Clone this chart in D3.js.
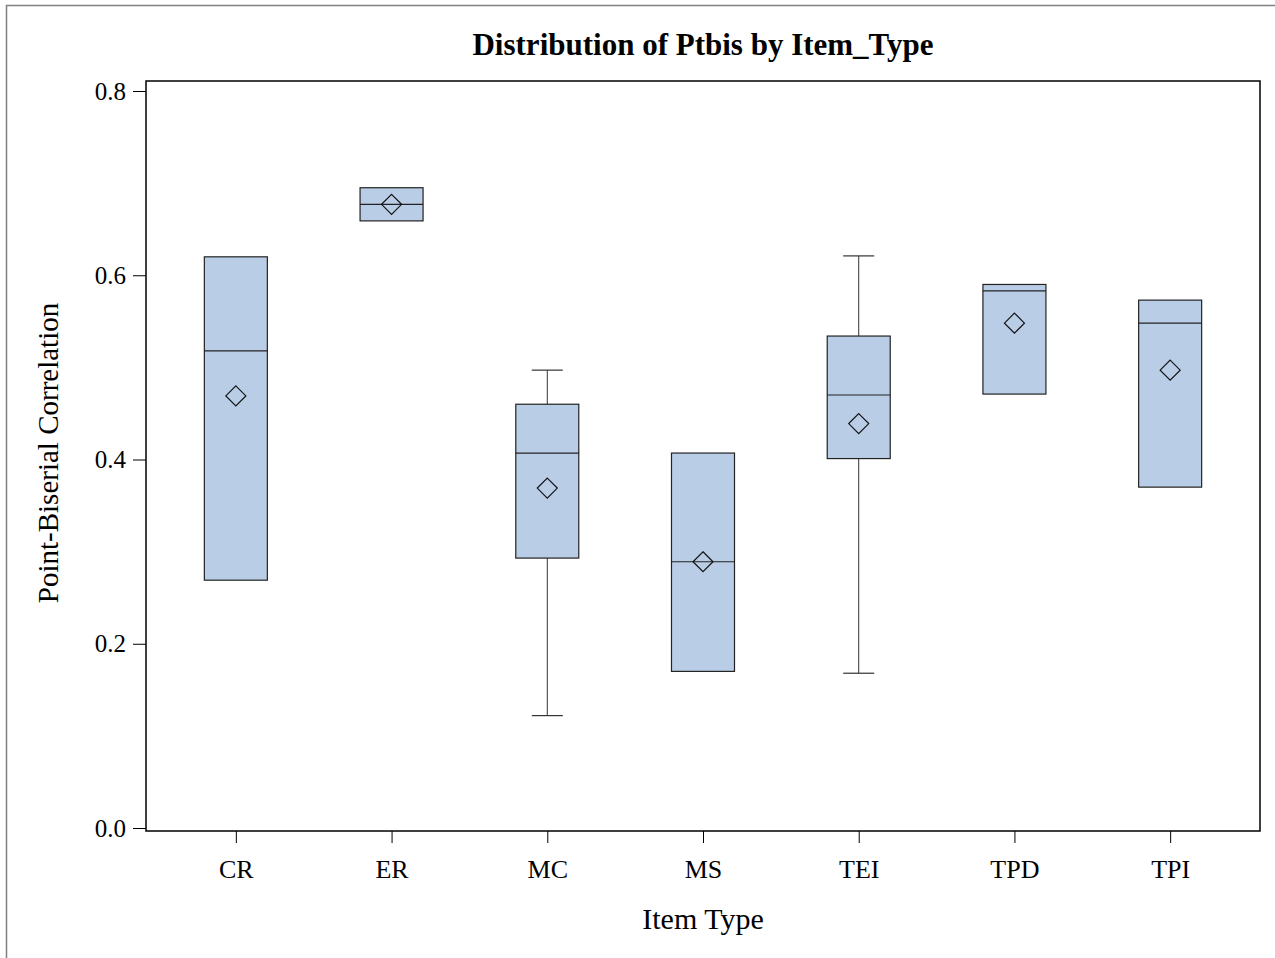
<!DOCTYPE html>
<html>
<head>
<meta charset="utf-8">
<script src="https://cdn.jsdelivr.net/npm/d3@7"></script>
<style>
html,body{margin:0;padding:0;background:#fff;}
svg{display:block;}
text{font-family:"Liberation Serif","Times New Roman",serif;fill:#000;}
</style>
</head>
<body>
<svg id="chart" width="1275" height="958"></svg>
<script>
const categories = ["CR","ER","MC","MS","TEI","TPD","TPI"];
const minVals    = [0.269,0.659,0.122,0.170,0.168,0.471,0.370];
const q1Vals     = [0.269,0.659,0.293,0.170,0.401,0.471,0.370];
const medianVals = [0.518,0.677,0.407,0.289,0.470,0.583,0.548];
const q3Vals     = [0.620,0.695,0.460,0.407,0.534,0.590,0.573];
const maxVals    = [0.620,0.695,0.497,0.407,0.621,0.590,0.573];
const meanVals   = [0.469,0.677,0.369,0.289,0.439,0.548,0.497];
const yTicks     = [0.0,0.2,0.4,0.6,0.8];

const svg = d3.select("#chart");
const L = 146, R = 1260, T = 81, B = 831;

// outer frame lines
svg.append("line").attr("x1",6).attr("y1",5.5).attr("x2",1275).attr("y2",5.5).attr("stroke","#808080").attr("stroke-width",1.5);
svg.append("line").attr("x1",6.5).attr("y1",5).attr("x2",6.5).attr("y2",958).attr("stroke","#808080").attr("stroke-width",1.5);

const y = d3.scaleLinear().domain([0,0.8]).range([828,91]);
const x = d3.scalePoint().domain(categories).range([L,R]).padding(0.577);

const boxW = 63, capW = 31;

const data = categories.map((c,i)=>({c,min:minVals[i],q1:q1Vals[i],med:medianVals[i],q3:q3Vals[i],max:maxVals[i],mean:meanVals[i]}));

const g = svg.append("g");
data.forEach(d=>{
  const cx = x(d.c);
  if (d.max > d.q3) {
    g.append("line").attr("x1",cx).attr("x2",cx).attr("y1",y(d.max)).attr("y2",y(d.q3)).attr("stroke","#333").attr("stroke-width",1);
    g.append("line").attr("x1",cx-capW/2).attr("x2",cx+capW/2).attr("y1",y(d.max)).attr("y2",y(d.max)).attr("stroke","#333").attr("stroke-width",1.2);
  }
  if (d.min < d.q1) {
    g.append("line").attr("x1",cx).attr("x2",cx).attr("y1",y(d.q1)).attr("y2",y(d.min)).attr("stroke","#333").attr("stroke-width",1);
    g.append("line").attr("x1",cx-capW/2).attr("x2",cx+capW/2).attr("y1",y(d.min)).attr("y2",y(d.min)).attr("stroke","#333").attr("stroke-width",1.2);
  }
  g.append("rect").attr("x",cx-boxW/2).attr("y",y(d.q3)).attr("width",boxW).attr("height",y(d.q1)-y(d.q3))
    .attr("fill","#B9CEE6").attr("stroke","#222").attr("stroke-width",1.2);
  g.append("line").attr("x1",cx-boxW/2).attr("x2",cx+boxW/2).attr("y1",y(d.med)).attr("y2",y(d.med)).attr("stroke","#222").attr("stroke-width",1.2);
  const my = y(d.mean), r = 10;
  g.append("path").attr("d",`M${cx},${my-r}L${cx+r},${my}L${cx},${my+r}L${cx-r},${my}Z`)
    .attr("fill","none").attr("stroke","#111").attr("stroke-width",1.2);
});

// plot frame
svg.append("rect").attr("x",L).attr("y",T).attr("width",R-L).attr("height",B-T)
  .attr("fill","none").attr("stroke","#000").attr("stroke-width",1.5);

// y axis
const yAxis = d3.axisLeft(y).tickValues(yTicks).tickFormat(d3.format(".1f")).tickSize(13).tickPadding(7);
const ya = svg.append("g").attr("transform",`translate(${L},0)`).call(yAxis);
ya.select(".domain").remove();
ya.selectAll("text").style("font-size","25px").attr("fill","#000");
ya.selectAll("line").attr("stroke","#000");

// x axis
const xAxis = d3.axisBottom(x).tickSize(12).tickPadding(17);
const xa = svg.append("g").attr("transform",`translate(0,${B})`).call(xAxis);
xa.select(".domain").remove();
xa.selectAll("text").style("font-size","26px").attr("fill","#000");
xa.selectAll("line").attr("stroke","#000");

// title & labels
svg.append("text").attr("x",703).attr("y",55).attr("text-anchor","middle")
  .style("font-size","31px").style("font-weight","bold").text("Distribution of Ptbis by Item_Type");
svg.append("text").attr("x",703).attr("y",929).attr("text-anchor","middle")
  .style("font-size","30px").text("Item Type");
svg.append("text").attr("transform","translate(58,453) rotate(-90)").attr("text-anchor","middle")
  .style("font-size","29px").text("Point-Biserial Correlation");
</script>
</body>
</html>
